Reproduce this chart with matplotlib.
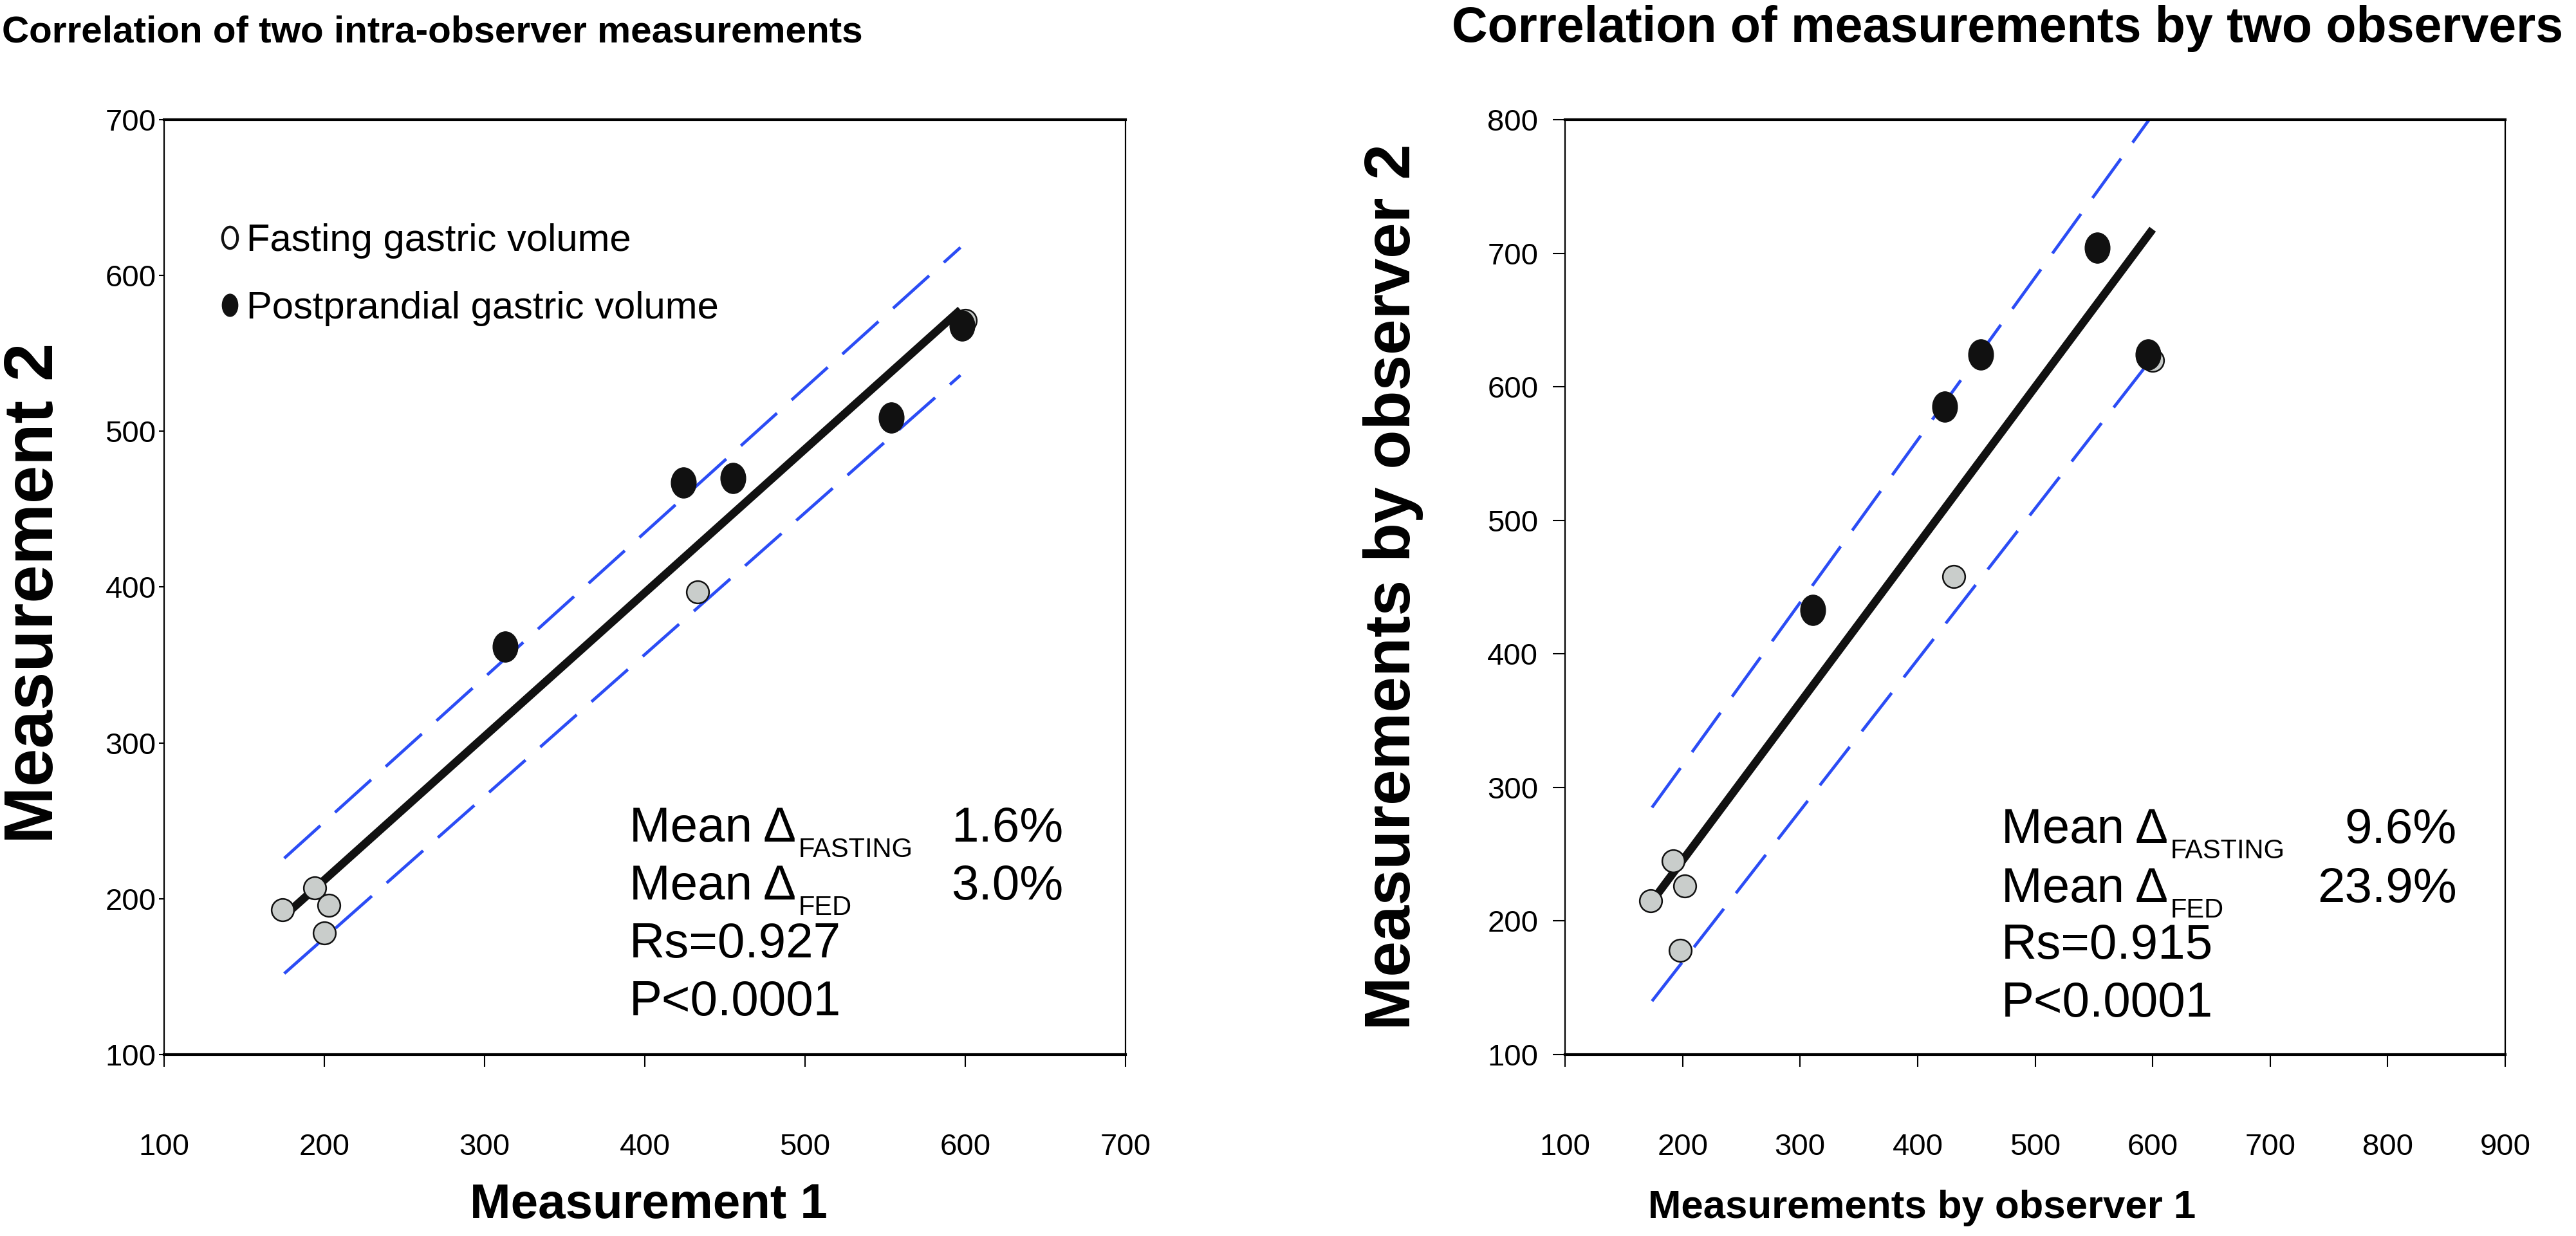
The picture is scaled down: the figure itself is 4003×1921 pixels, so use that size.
import matplotlib
matplotlib.use('Agg')
import matplotlib.pyplot as plt
from matplotlib.markers import MarkerStyle
from matplotlib.transforms import Affine2D
from matplotlib.lines import Line2D

plt.rcParams['font.family'] = ['Liberation Sans', 'DejaVu Sans']

# left panel: two measurements by the same observer
fast1_x = [174, 194, 203, 200, 433, 600]
fast1_y = [193, 207, 196, 178, 397, 571]
fed1_x = [313, 424, 455, 554, 598]
fed1_y = [362, 467, 470, 509, 568]
fit1_x = [175, 597]
fit1_y = [189, 578]
upper1_x = [175, 597]
upper1_y = [226, 618]
lower1_x = [175, 597]
lower1_y = [152, 536]

# right panel: observer 1 vs observer 2
fast2_x = [173, 192, 202, 198, 431, 600]
fast2_y = [215, 245, 226, 178, 458, 620]
fed2_x = [311, 423, 454, 553, 596]
fed2_y = [433, 585, 624, 704, 624]
fit2_x = [176, 600]
fit2_y = [217, 718]
upper2_x = [174, 597]
upper2_y = [285, 800]
lower2_x = [174, 600]
lower2_y = [140, 622]

titles = ['Correlation of two intra-observer measurements',
          'Correlation of measurements by two observers']
xlabels = ['Measurement 1', 'Measurements by observer 1']
ylabels = ['Measurement 2', 'Measurements by observer 2']
stats1 = [('FASTING', '1.6%'), ('FED', '3.0%'), 'Rs=0.927', 'P<0.0001']
stats2 = [('FASTING', '9.6%'), ('FED', '23.9%'), 'Rs=0.915', 'P<0.0001']
legend_labels = ['Fasting gastric volume', 'Postprandial gastric volume']

W, H = 4003, 1921
fig = plt.figure(figsize=(W / 100, H / 100), dpi=100)

def fx(x):
    return x / W

def fy(y):
    return 1 - y / H

ax1 = fig.add_axes([fx(255), fy(1639), fx(1749) - fx(255), fy(186) - fy(1639)])
ax2 = fig.add_axes([fx(2432), fy(1639), fx(3893) - fx(2432), fy(186) - fy(1639)])

BLUE = '#2b4cf5'
GREY = '#c9cdcb'
oval = MarkerStyle('o', transform=Affine2D().scale(0.82, 1.0))
oval_leg = MarkerStyle('o', transform=Affine2D().scale(0.7, 1.0))

panels = [
    (ax1, fast1_x, fast1_y, fed1_x, fed1_y, fit1_x, fit1_y, upper1_x, upper1_y, lower1_x, lower1_y),
    (ax2, fast2_x, fast2_y, fed2_x, fed2_y, fit2_x, fit2_y, upper2_x, upper2_y, lower2_x, lower2_y),
]
for ax, fax, fay, fex, fey, rx, ry, ux, uy, lx, ly in panels:
    ax.plot(ux, uy, color=BLUE, lw=3.4, dashes=(16, 6.5), zorder=2)
    ax.plot(lx, ly, color=BLUE, lw=3.4, dashes=(16, 6.5), zorder=2)
    ax.plot(rx, ry, color='#111111', lw=9, solid_capstyle='butt', zorder=3)
    ax.plot(fax, fay, ls='none', marker='o', ms=25, mfc=GREY, mec='#111111', mew=1.8, zorder=4)
    ax.plot(fex, fey, ls='none', marker=oval, ms=34, mfc='#111111', mec='#111111', mew=1, zorder=5)
    ax.spines['top'].set_linewidth(3)
    ax.spines['bottom'].set_linewidth(3)
    ax.spines['left'].set_linewidth(1.6)
    ax.spines['right'].set_linewidth(1.6)
    ax.tick_params(direction='out', width=1.5, labelsize=34)
    ax.tick_params(axis='x', length=14, pad=74)

ax1.tick_params(axis='y', length=6, pad=3)
ax2.tick_params(axis='y', length=14, pad=16)

ax1.set_xlim(100, 700)
ax1.set_ylim(100, 700)
ax1.set_xticks(range(100, 701, 100))
ax1.set_yticks(range(100, 701, 100))
ax2.set_xlim(100, 900)
ax2.set_ylim(100, 800)
ax2.set_xticks(range(100, 901, 100))
ax2.set_yticks(range(100, 801, 100))

# titles and axis labels
fig.text(fx(672), fy(65), titles[0], ha='center', va='baseline', fontsize=42, fontweight='bold')
fig.text(fx(3120), fy(65), titles[1], ha='center', va='baseline', fontsize=55.5, fontweight='bold')
fig.text(fx(1008), fy(1893), xlabels[0], ha='center', va='baseline', fontsize=55, fontweight='bold')
fig.text(fx(2987), fy(1893), xlabels[1], ha='center', va='baseline', fontsize=44.5, fontweight='bold')
fig.text(fx(54), fy(922), ylabels[0], ha='center', va='center', rotation=90, fontsize=77, fontweight='bold')
fig.text(fx(2165), fy(912), ylabels[1], ha='center', va='center', rotation=90, fontsize=72, fontweight='bold')

# legend
handles = [Line2D([], [], ls='none', marker=oval_leg, ms=24, mfc='white', mec='#111111', mew=3),
           Line2D([], [], ls='none', marker=oval_leg, ms=25, mfc='#111111', mec='#111111', mew=1)]
ax1.legend(handles, legend_labels, loc='upper left', bbox_to_anchor=(fx(339), fy(347)),
           bbox_transform=fig.transFigure, frameon=False, fontsize=43, handlelength=0.6,
           handletextpad=0.14, labelspacing=0.83, borderpad=0, borderaxespad=0)

# statistics text
renderer = fig.canvas.get_renderer()
for stats, x0, xr, bases in [(stats1, 978, 1652, [1308, 1398, 1488, 1578]),
                             (stats2, 3110, 3818, [1310, 1402, 1490, 1580])]:
    for item, yb in zip(stats, bases):
        if isinstance(item, tuple):
            sub, val = item
            t = fig.text(fx(x0), fy(yb), 'Mean \u0394', ha='left', va='baseline', fontsize=55)
            bb = t.get_window_extent(renderer=renderer)
            fig.text(fx(bb.x1 + 3), fy(yb + 24), sub, ha='left', va='baseline', fontsize=30)
            fig.text(fx(xr), fy(yb), val, ha='right', va='baseline', fontsize=55)
        else:
            fig.text(fx(x0), fy(yb), item, ha='left', va='baseline', fontsize=55)

fig.savefig('out.png', dpi=100)
